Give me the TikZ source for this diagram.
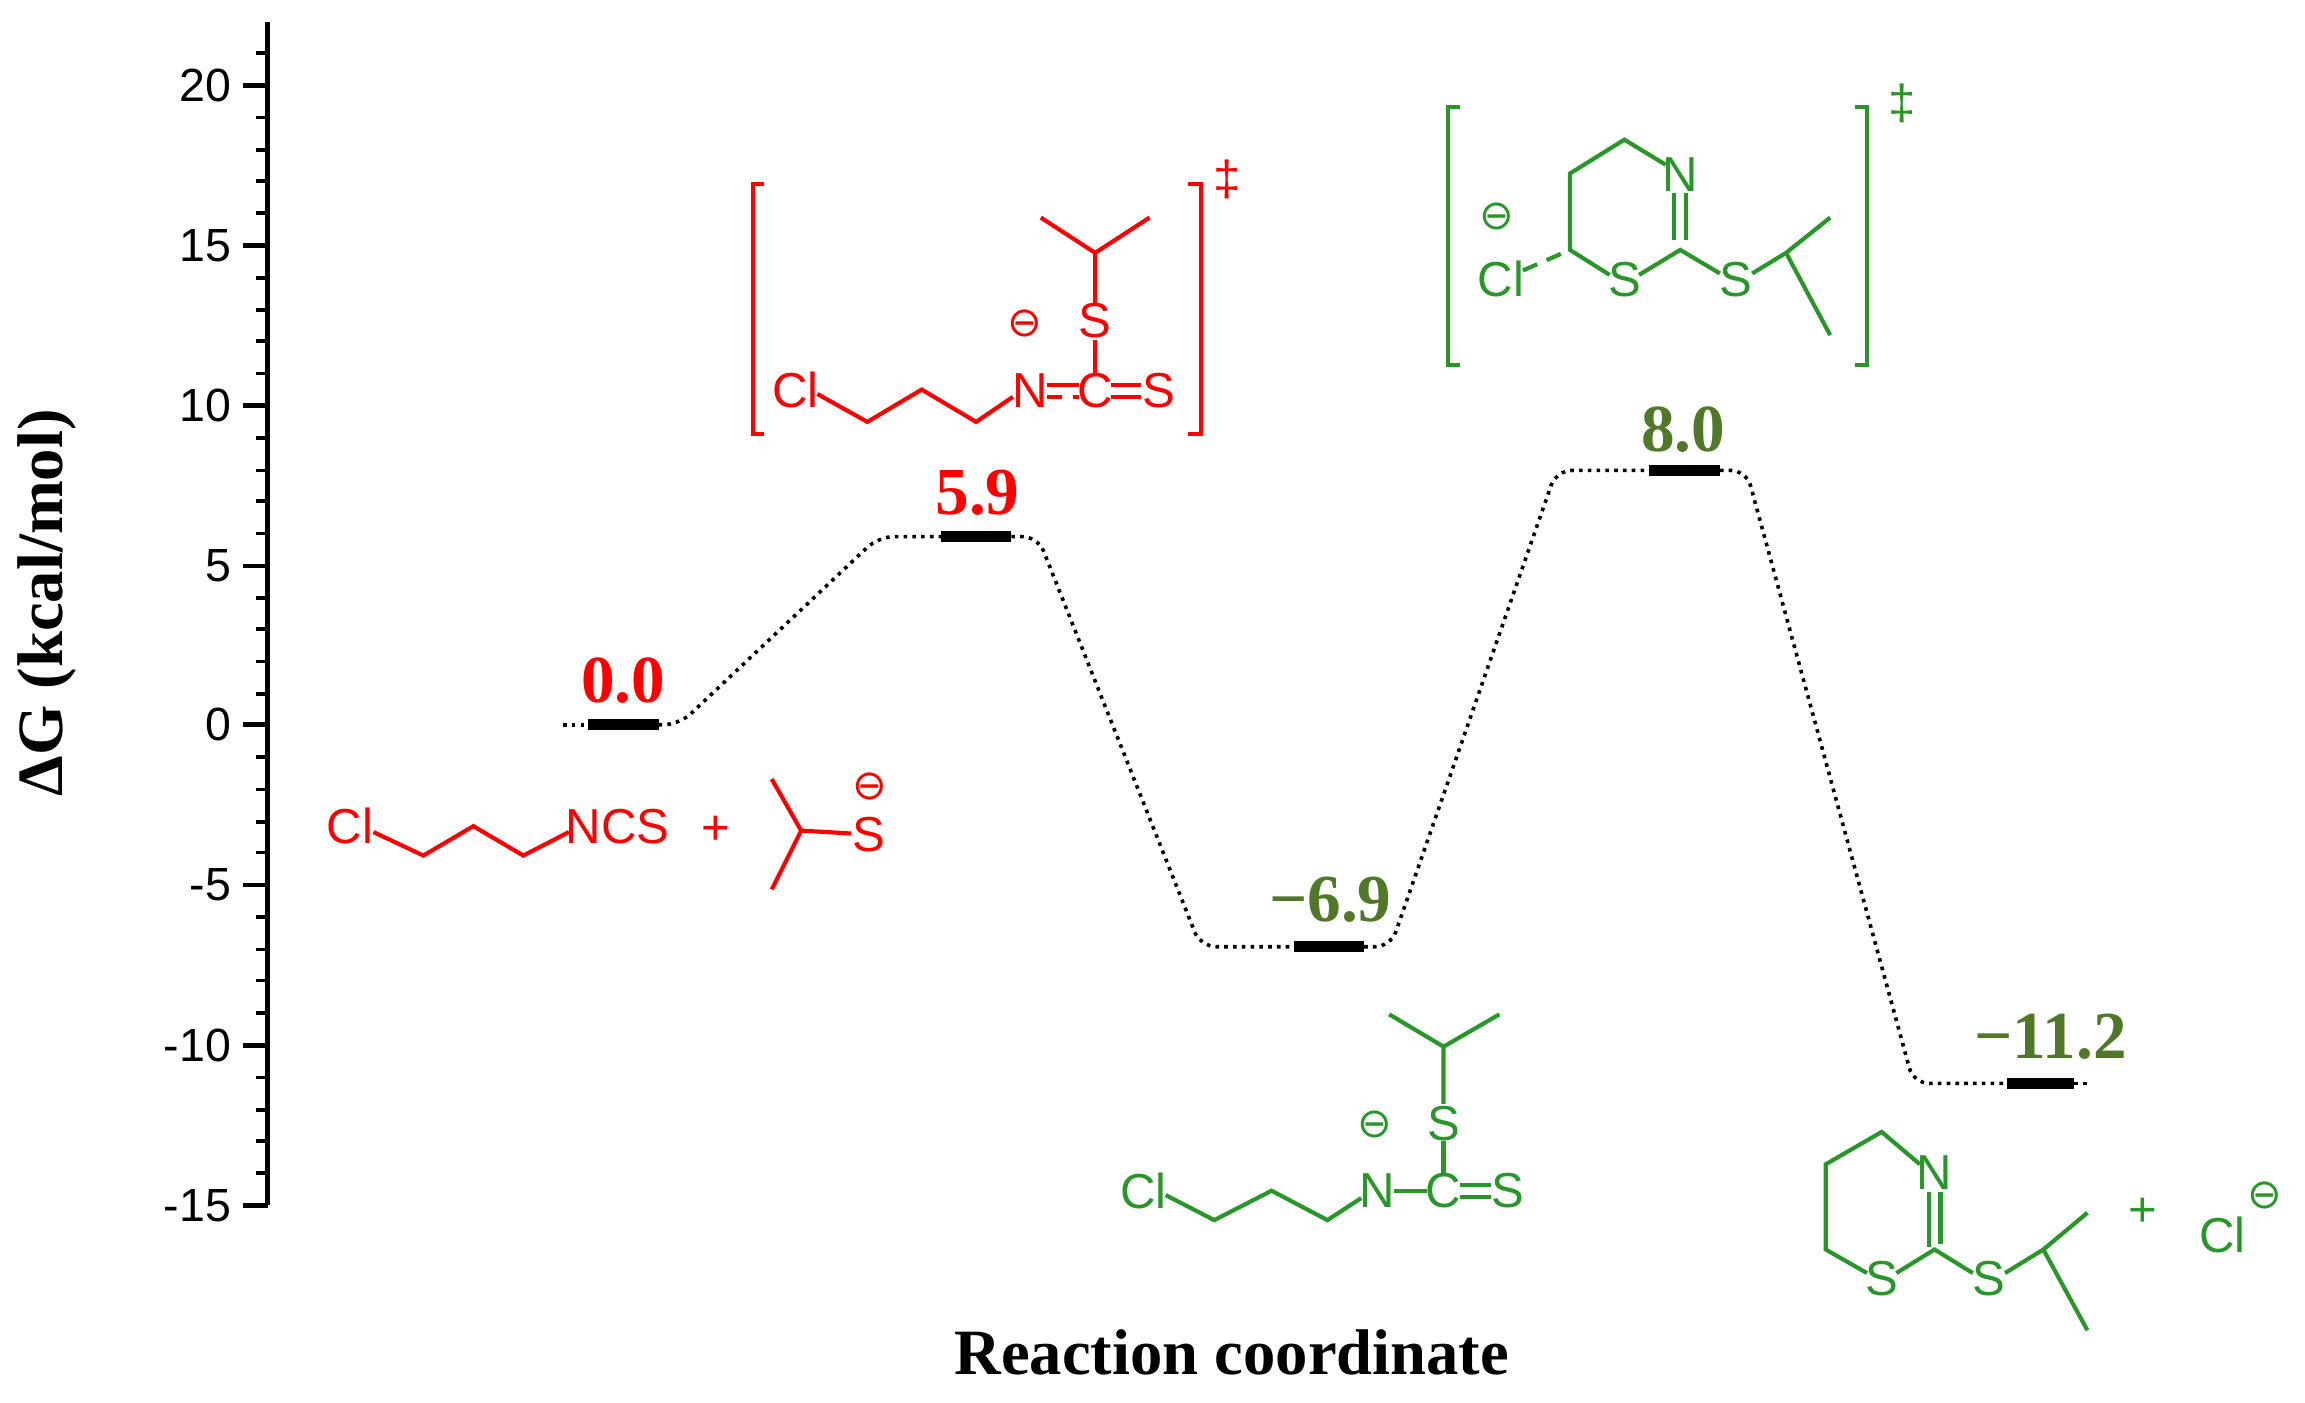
\documentclass[tikz,border=0pt]{standalone}
\usepackage{fontspec}
\setmainfont{Liberation Serif}
\setsansfont{Liberation Sans}
\newfontfamily\dv{DejaVu Sans}
\begin{document}
\begin{tikzpicture}[x=0.01cm,y=-0.01cm,
  tl/.style={font=\sffamily\fontsize{9}{10}\selectfont,anchor=east,inner sep=0},
  lev/.style={line width=2.2pt},
  con/.style={densely dotted,line width=0.7pt},
  val/.style={font=\bfseries\fontsize{13}{15}\selectfont,inner sep=0},
  atm/.style={font=\sffamily\fontsize{9.5}{11}\selectfont,inner sep=0.5pt},
  bd/.style={line width=0.8pt},
  neg/.style={font=\dv\fontsize{8}{9}\selectfont,inner sep=0}]
\definecolor{lg}{RGB}{80,120,40}
\definecolor{sg}{RGB}{40,150,40}
\useasboundingbox (0,0) rectangle (1568,954);
% axis
\draw[line width=0.9pt] (182,15) -- (182,820);
\foreach \v/\y in {20/58,15/167,10/276,5/385,0/493,-5/602,-10/711,-15/820}{
  \draw[line width=0.9pt] (165,\y) -- (182,\y);
  \node[tl] at (158,\y) {\v};}
\foreach \y in {36,80,102,123,145,189,211,232,254,298,320,341,363,407,428,450,472,515,537,559,580,624,646,667,689,733,755,776,798}
  \draw[line width=0.7pt] (174,\y) -- (182,\y);
\node[rotate=90,font=\bfseries\fontsize{12.5}{15}\selectfont] (yl) at (32,410) {ΔG (kcal/mol)};
\node[font=\bfseries\fontsize{12.5}{15}\selectfont] (xl) at (838,920) {Reaction coordinate};
% levels
\coordinate (a0) at (400,493); \coordinate (a1) at (448,493);
\coordinate (b0) at (640,365); \coordinate (b1) at (688,365);
\coordinate (c0) at (880,644); \coordinate (c1) at (928,644);
\coordinate (d0) at (1122,320); \coordinate (d1) at (1170,320);
\coordinate (e0) at (1365,737); \coordinate (e1) at (1411,737);
\foreach \p in {a,b,c,d,e} \draw[lev] (\p0) -- (\p1);
\draw[con] (383,493) -- (a0);
\draw[con,rounded corners=3] (a1) -- ++(14,0) -- ([xshift=-12]b0) -- (b0);
\draw[con,rounded corners=3] (b1) -- ++(18,0) -- ([xshift=-18]c0) -- (c0);
\draw[con,rounded corners=3] (c1) -- ++(18,0) -- ([xshift=-18]d0) -- (d0);
\draw[con,rounded corners=3] (d1) -- ++(18,0) -- ([xshift=-18]e0) -- (e0);
\draw[con] (e1) -- (1422,737);
\node[val,red] at (424,463) {0.0};
\node[val,red] at (665,335) {5.9};
\node[val,lg] at (905,612) {−6.9};
\node[val,lg] at (1145,292) {8.0};
\node[val,lg] at (1395,705) {−11.2};
% reactants (red)
\begin{scope}[red]
\node[atm] at (238,562) {Cl};
\draw[bd] (254,566) -- (288,582) -- (322,562) -- (356,582) -- (387,566);
\node[atm] at (420,562) {NCS};
\node[atm] at (487,565) {+};
\draw[bd] (525,530) -- (545,565) -- (525,605);
\draw[bd] (545,565) -- (579,567);
\node[atm] at (591,568) {S};
\node[neg] at (592,535) {⊖};
% TS1
\draw[bd] (520,125) -- (512,125) -- (512,295) -- (520,295);
\draw[bd] (808,125) -- (817,125) -- (817,295) -- (808,295);
\node[atm] at (835,122) {‡};
\node[atm] at (541,265) {Cl};
\draw[bd] (556,268) -- (590,287) -- (627,265) -- (664,287) -- (689,270);
\node[atm] at (701,266) {N};
\draw[bd] (712,262) -- (734,262);
\draw[bd,densely dashed] (712,270) -- (734,270);
\node[atm] at (745,266) {C};
\draw[bd] (756,262) -- (776,262); \draw[bd] (756,270) -- (776,270);
\node[atm] at (788,266) {S};
\draw[bd] (745,254) -- (745,231);
\node[atm] at (745,218) {S};
\draw[bd] (745,206) -- (745,172) -- (708,148); \draw[bd] (745,172) -- (782,148);
\node[neg] at (697,220) {⊖};
\end{scope}
% TS2
\begin{scope}[sg]
\draw[bd] (993,73) -- (985,73) -- (985,248) -- (993,248);
\draw[bd] (1262,73) -- (1270,73) -- (1270,248) -- (1262,248);
\node[atm] at (1294,70) {‡};
\node[atm] at (1021,190) {Cl};
\node[neg] at (1018,147) {⊖};
\draw[bd,densely dashed] (1036,184) -- (1068,170);
\draw[bd] (1095,187) -- (1068,170) -- (1068,118) -- (1105,95) -- (1133,112);
\node[atm] at (1143,119) {N};
\draw[bd] (1139,131) -- (1139,163); \draw[bd] (1147,131) -- (1147,163);
\node[atm] at (1105,190) {S};
\draw[bd] (1115,187) -- (1143,170) -- (1170,186);
\node[atm] at (1181,190) {S};
\draw[bd] (1192,186) -- (1215,172) -- (1245,148); \draw[bd] (1215,172) -- (1245,228);
% intermediate
\node[atm] at (778,810) {Cl};
\draw[bd] (793,813) -- (826,830) -- (865,810) -- (903,830) -- (926,815);
\node[atm] at (937,810) {N};
\draw[bd] (948,810) -- (971,810);
\node[atm] at (982,810) {C};
\draw[bd] (993,806) -- (1014,806); \draw[bd] (993,814) -- (1014,814);
\node[atm] at (1026,810) {S};
\draw[bd] (982,798) -- (982,776);
\node[atm] at (982,764) {S};
\draw[bd] (982,751) -- (982,712) -- (945,690); \draw[bd] (982,712) -- (1020,690);
\node[neg] at (935,765) {⊖};
% product
\draw[bd] (1306,792) -- (1280,770) -- (1242,792) -- (1242,850) -- (1270,866);
\node[atm] at (1316,798) {N};
\node[atm] at (1280,870) {S};
\draw[bd] (1290,866) -- (1316,850) -- (1342,866);
\draw[bd] (1312,811) -- (1312,848); \draw[bd] (1320,811) -- (1320,846);
\node[atm] at (1353,870) {S};
\draw[bd] (1364,866) -- (1390,850) -- (1420,825); \draw[bd] (1390,850) -- (1420,905);
\node[atm] at (1458,825) {+};
\node[atm] at (1512,840) {Cl};
\node[neg] at (1541,813) {⊖};
\end{scope}
\end{tikzpicture}
\end{document}
